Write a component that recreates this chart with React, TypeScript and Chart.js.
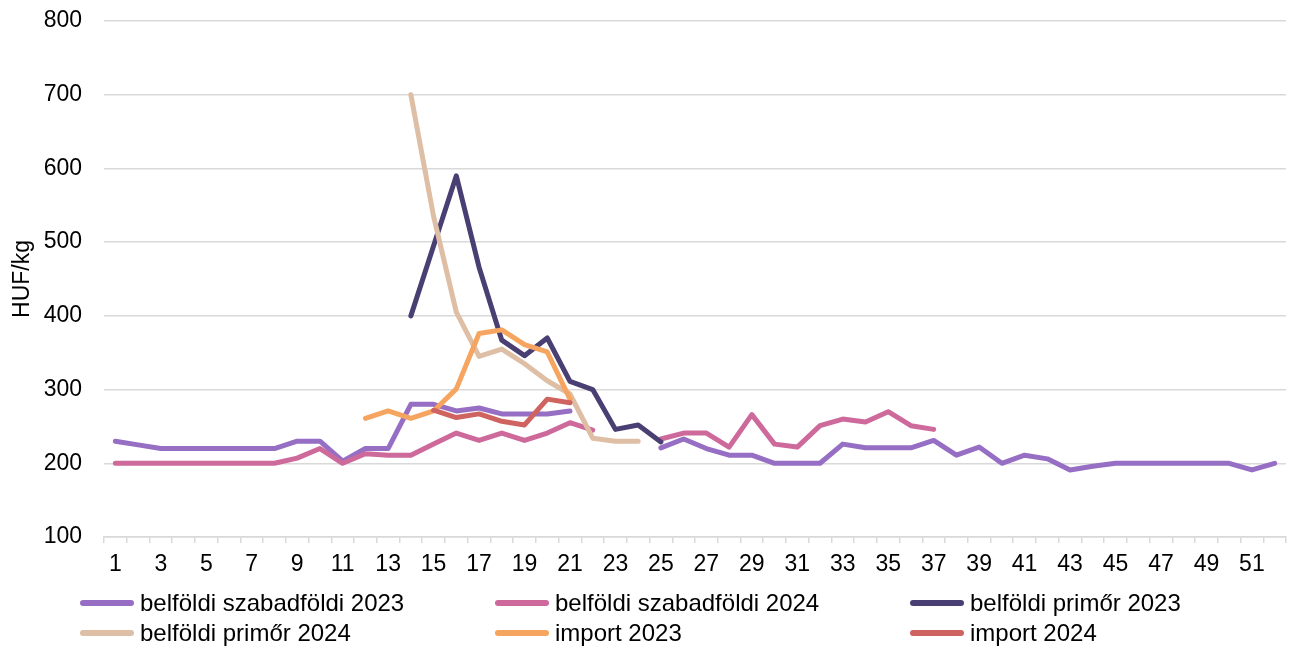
import React, { useEffect, useRef } from "react";
import { Chart, registerables } from "chart.js";

Chart.register(...registerables);

const weeks: string[] = [
  "1", "2", "3", "4", "5", "6", "7", "8", "9", "10",
  "11", "12", "13", "14", "15", "16", "17", "18", "19", "20",
  "21", "22", "23", "24", "25", "26", "27", "28", "29", "30",
  "31", "32", "33", "34", "35", "36", "37", "38", "39", "40",
  "41", "42", "43", "44", "45", "46", "47", "48", "49", "50",
  "51", "52",
];

const N = null;

const szabadfoldi2023: (number | null)[] = [
  230, 225, 220, 220, 220, 220, 220, 220, 230, 230,
  203, 220, 220, 280, 280, 271, 275, 267, 267, 267,
  271, N, N, N, 221, 233, 220, 211, 211, 200,
  200, 200, 226, 221, 221, 221, 231, 211, 222, 200,
  211, 206, 191, 196, 200, 200, 200, 200, 200, 200,
  191, 200,
];

const szabadfoldi2024: (number | null)[] = [
  200, 200, 200, 200, 200, 200, 200, 200, 207, 220,
  200, 213, 211, 211, 226, 241, 231, 241, 231, 241,
  255, 245, N, N, 233, 241, 241, 222, 266, 226,
  222, 251, 260, 256, 270, 251, 246, N, N, N,
  N, N, N, N, N, N, N, N, N, N,
  N, N,
];

const primor2023: (number | null)[] = [
  N, N, N, N, N, N, N, N, N, N,
  N, N, N, 400, 495, 590, 466, 367, 346, 370,
  311, 300, 246, 252, 229, N, N, N, N, N,
  N, N, N, N, N, N, N, N, N, N,
  N, N, N, N, N, N, N, N, N, N,
  N, N,
];

const primor2024: (number | null)[] = [
  N, N, N, N, N, N, N, N, N, N,
  N, N, N, 700, 535, 405, 345, 355, 335, 312,
  294, 234, 230, 230, N, N, N, N, N, N,
  N, N, N, N, N, N, N, N, N, N,
  N, N, N, N, N, N, N, N, N, N,
  N, N,
];

const import2023: (number | null)[] = [
  N, N, N, N, N, N, N, N, N, N,
  N, 261, 271, 261, 271, 301, 376, 381, 361, 351,
  287, N, N, N, N, N, N, N, N, N,
  N, N, N, N, N, N, N, N, N, N,
  N, N, N, N, N, N, N, N, N, N,
  N, N,
];

const import2024: (number | null)[] = [
  N, N, N, N, N, N, N, N, N, N,
  N, N, N, N, 272, 262, 267, 257, 252, 287,
  282, N, N, N, N, N, N, N, N, N,
  N, N, N, N, N, N, N, N, N, N,
  N, N, N, N, N, N, N, N, N, N,
  N, N,
];

const seriesNames: string[] = [
  "belföldi szabadföldi 2023",
  "belföldi szabadföldi 2024",
  "belföldi primőr 2023",
  "belföldi primőr 2024",
  "import 2023",
  "import 2024",
];

const seriesColors: string[] = [
  "#966EC3",
  "#CD699B",
  "#4A3F73",
  "#DEBEA5",
  "#F5A55F",
  "#CF6360",
];

const seriesData = [
  szabadfoldi2023,
  szabadfoldi2024,
  primor2023,
  primor2024,
  import2023,
  import2024,
];

const yTitle = "HUF/kg";
const FONT = "'Liberation Sans', Arial, sans-serif";

export default function App() {
  const canvasRef = useRef<HTMLCanvasElement | null>(null);

  useEffect(() => {
    if (!canvasRef.current) return;
    const chart = new Chart(canvasRef.current, {
      type: "line",
      data: {
        labels: weeks,
        datasets: seriesData.map((d, i) => ({
          label: seriesNames[i],
          data: d,
          borderColor: seriesColors[i],
          backgroundColor: seriesColors[i],
          borderWidth: 5,
          pointRadius: 0,
          pointHoverRadius: 0,
          tension: 0,
          spanGaps: false,
          borderCapStyle: "round" as const,
          borderJoinStyle: "round" as const,
          order: seriesData.length - i,
        })),
      },
      options: {
        responsive: false,
        animation: false,
        layout: { padding: { top: 21, right: 5, bottom: 66, left: 0 } },
        plugins: {
          legend: { display: false },
          tooltip: { enabled: false },
        },
        scales: {
          x: {
            type: "category",
            offset: true,
            grid: {
              offset: true,
              drawOnChartArea: false,
              drawTicks: true,
              tickLength: 6,
              color: "#d9d9d9",
              lineWidth: 1.5,
            },
            border: { display: true, color: "#d9d9d9", width: 1.5 },
            ticks: {
              autoSkip: false,
              maxRotation: 0,
              minRotation: 0,
              padding: 8,
              color: "#000",
              font: { family: FONT, size: 23 },
              callback: (_v: any, idx: number) => (idx % 2 === 0 ? weeks[idx] : ""),
            },
            afterFit: (s: any) => {
              s.height = 45;
              s.paddingLeft = 0;
              s.paddingRight = 0;
            },
          },
          y: {
            min: 100,
            max: 800,
            grid: {
              drawTicks: false,
              color: "#d9d9d9",
              lineWidth: 1.5,
            },
            border: { display: false },
            ticks: {
              stepSize: 100,
              padding: 22,
              color: "#000",
              font: { family: FONT, size: 23 },
            },
            title: {
              display: true,
              text: yTitle,
              color: "#000",
              font: { family: FONT, size: 23 },
              padding: { top: 9, bottom: 0 },
            },
            afterFit: (s: any) => {
              s.width = 104;
              s.paddingTop = 0;
              s.paddingBottom = 0;
            },
          },
        },
      },
    });
    return () => chart.destroy();
  }, []);

  const cols = [80, 495, 910];
  const rows = [603, 633];

  return (
    <div
      style={{
        position: "absolute",
        left: 0,
        top: 0,
        width: 1291,
        height: 648,
        background: "#fff",
        overflow: "hidden",
      }}
    >
      <canvas ref={canvasRef} width={1291} height={648} style={{ display: "block" }} />
      {seriesNames.map((name, i) => {
        const col = i % 3;
        const row = Math.floor(i / 3);
        return (
          <div
            key={name}
            style={{
              position: "absolute",
              left: cols[col],
              top: rows[row] - 15,
              height: 30,
              display: "flex",
              alignItems: "center",
              whiteSpace: "nowrap",
              fontFamily: FONT,
              fontSize: 24,
              color: "#000",
            }}
          >
            <div
              style={{
                width: 54,
                height: 6,
                borderRadius: 3,
                background: seriesColors[i],
                marginRight: 6,
              }}
            />
            <span style={{ lineHeight: "30px" }}>{name}</span>
          </div>
        );
      })}
    </div>
  );
}
